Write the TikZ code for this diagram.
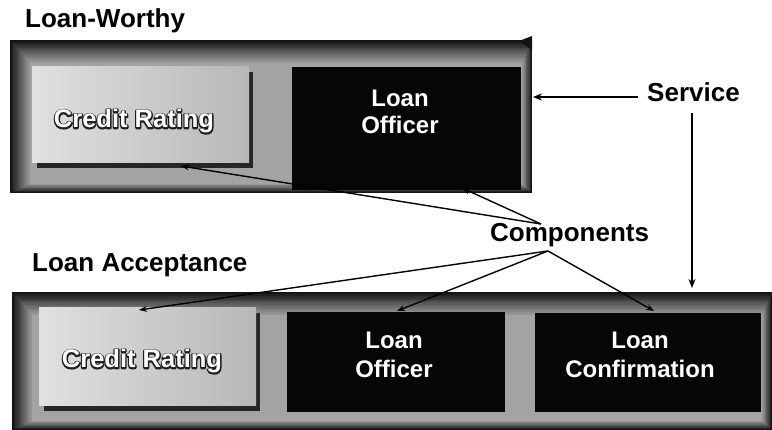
\documentclass[tikz,border=0pt]{standalone}
\usepackage{fontspec}
\setmainfont{Liberation Sans}
\usetikzlibrary{arrows.meta}

\definecolor{darkbox}{RGB}{6,6,6}

\tikzset{
  heading/.style={font=\fontsize{26}{29}\selectfont\bfseries, inner sep=0pt},
  boxtext/.style={font=\fontsize{24}{28}\selectfont\bfseries, text=white,
    align=center, inner sep=0pt},
  embossed/.style={font=\fontsize{25.5}{28}\selectfont\bfseries, inner sep=0pt, anchor=base},
  blackbox/.style={draw=none, fill=darkbox, inner sep=0pt, rectangle},
  complink/.style={line width=1.4pt, -{Stealth[length=8pt,width=6pt]}},
  svclink/.style={line width=2.4pt, -{Stealth[length=9pt,width=7pt]}},
}

% soft-edged grey panel: dark rim fading into a mid-grey face
\newcommand\softpanel[4]{%
  \foreach \i in {0,...,12}{%
    \pgfmathtruncatemacro\shade{92-4.6*\i}%
    \fill[black!\shade] ({#1+\i*1.7},{#2+\i*1.9}) rectangle ({#3-\i*0.8},{#4-\i*0.75});
  }%
}

% light raised box with drop shadow
\newcommand\raisedbox[5]{%
  \fill[black!85] ({#2+5},{#3+5}) rectangle ({#4+4},{#5+5});
  \shade[left color=black!12, right color=black!28] (#2,#3) rectangle (#4,#5);
  \path (#2,#3) rectangle (#4,#5) node[pos=0.5, inner sep=0pt] (#1) {};
}

% white lettering, stroked with a heavy dark outline (stroke first, then fill on top)
\newcommand\strokedword[1]{%
  \special{pdf:code q 1 Tr 2.6 w 1 j 0.12 G}\rlap{#1}\special{pdf:code 0 Tr Q}#1}

\newcommand\outlinetext[3]{%
  \node[embossed, text=white] (#1) at (#2) {\strokedword{#3}};
}

\begin{document}
\begin{tikzpicture}[x=1pt, y=-1pt]
  \useasboundingbox (0,0) rectangle (772,430);

  % ---------- Loan-Worthy service ----------
  \node[heading, anchor=base west] (lwtitle) at (25,28) {Loan-Worthy};
  \softpanel{10}{40}{532}{193}
  \fill[black!92] (519,41) -- (532,36) -- (532,50) -- cycle;
  \raisedbox{cr1}{32}{67}{249}{163}
  \coordinate (cr1base) at (134,128);
  \outlinetext{cr1text}{cr1base}{Credit Rating}
  \path (292,67) rectangle (521,190) node[pos=0.5, blackbox, minimum width=229pt, minimum height=123pt] (lo1) {};
  \node[boxtext] (lo1text) at (400,112) {Loan\\[-1pt]Officer};

  % ---------- Loan Acceptance service ----------
  \node[heading, anchor=base west] (latitle) at (32,272) {Loan Acceptance};
  \softpanel{12}{292}{772}{430}
  \raisedbox{cr2}{39}{308}{256}{406}
  \coordinate (cr2base) at (142,368);
  \outlinetext{cr2text}{cr2base}{Credit Rating}
  \node[blackbox, minimum width=218pt, minimum height=100pt] (lo2) at (396,362) {};
  \node[boxtext] (lo2text) at (394,355) {Loan\\[1pt]Officer};
  \node[blackbox, minimum width=226pt, minimum height=99pt] (lc2) at (648,362.5) {};
  \node[boxtext] (lc2text) at (640,355) {Loan\\[1pt]Confirmation};

  % ---------- callout labels ----------
  \node[heading, anchor=base west] (service) at (647,102) {Service};
  \node[heading, anchor=base west] (components) at (490,242) {Components};

  % ---------- connectors ----------
  \coordinate (svcleft) at (638,97);
  \coordinate (svcdown) at (692,113);
  \coordinate (lo1east) at (533,97);
  \coordinate (panel2top) at (692,288);
  \draw[svclink] (svcleft) -- (lo1east);
  \draw[svclink] (svcdown) -- (panel2top);

  \coordinate (hubtop) at (541,224);
  \coordinate (hubbot) at (548,251);
  \coordinate (cr1tip) at (181,166);
  \coordinate (lo1tip) at (462,188);
  \coordinate (cr2tip) at (139,310);
  \coordinate (lo2tip) at (397,311);
  \coordinate (lc2tip) at (654,311);
  \draw[complink] (hubtop) -- (cr1tip);
  \draw[complink] (hubtop) -- (lo1tip);
  \draw[complink] (hubbot) -- (cr2tip);
  \draw[complink] (hubbot) -- (lo2tip);
  \draw[complink] (hubbot) -- (lc2tip);
\end{tikzpicture}
\end{document}
